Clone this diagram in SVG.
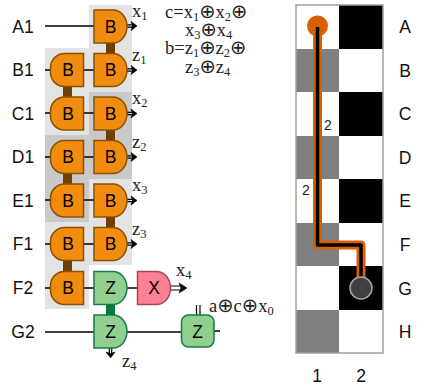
<svg xmlns="http://www.w3.org/2000/svg" width="425" height="389" viewBox="0 0 425 389">
<style>
.l{font-family:"Liberation Sans",Arial,sans-serif;font-size:17.5px;fill:#111;text-anchor:middle}
.g{font-family:"Liberation Sans",Arial,sans-serif;font-size:17.5px;fill:#000;text-anchor:middle}
.m{font-family:"Liberation Serif","DejaVu Serif",serif;font-size:18.500px;fill:#222}
.m tspan.s{font-size:12.500px}
.m tspan.o{font-family:"DejaVu Sans",sans-serif;font-size:19.500px}
.n{font-family:"Liberation Sans",Arial,sans-serif;font-size:14px;fill:#222}
.w{stroke:#000;stroke-width:1.500;fill:none}
.d{stroke:#000;stroke-width:1.200;fill:none}
.t{stroke-width:9;fill:none}
.b{fill:#f28c0f;stroke:#8a5200;stroke-width:1.500}
.z{fill:#8fd08f;stroke:#1a7a4a;stroke-width:1.500}
.x{fill:#ff8095;stroke:#a04a55;stroke-width:1.500}
</style>
<defs>
<path id="R" d="M0 -16.500H19A14 16.500 0 0 1 33 0A14 16.500 0 0 1 19 16.500H0Z"/>
<path id="L" d="M33 -16.500H14A14 14 0 0 0 0 -2.500V2.500A14 14 0 0 0 14 16.500H33Z"/>
<g id="a"><path d="M0 -1.200H7M0 1.200H7" class="d"/><path d="M4 -4.500L10 0L4 4.500L5.500 0Z" fill="#000" stroke="#000" stroke-width=".6"/></g>
</defs>
<g id="bands">
<path fill="#e3e3e3" d="M89 5H132V92H89ZM45 48H89V135H45ZM89 179H132V265H89ZM45 222H89V309H45Z"/>
<path fill="#c9c9c9" d="M89 92H132V179H89ZM45 135H89V222H45Z"/>
</g>
<g id="connectors">
<path class="w" d="M45 26H94M45 70H50M83 70H94M45 113H50M83 113H94M45 157H50M83 157H94M45 200H50M83 200H94M45 244H50M83 244H94M45 288H50M83 288H94M45 332H94M127 332H181M127 288H137M214 331H220"/>
<path class="d" d="M196.500 305V315M200 305V315"/>
<path class="t" stroke="#6e3f00" d="M110.500 43V54M67.500 86V97M110.500 130V141M67.500 173V184M110.500 217V228M67.500 260V272"/>
<path class="t" stroke="#007a3d" d="M110.500 304V316"/>
<use href="#a" x="127" y="26"/><use href="#a" x="127" y="70"/><use href="#a" x="127" y="113.500"/><use href="#a" x="127" y="157"/><use href="#a" x="127" y="200.500"/><use href="#a" x="127" y="244"/>
<use href="#a" transform="translate(110.500 348) rotate(90)"/>
<path class="d" d="M171 286H183M171 290H183"/>
<path d="M179 283L187 288L179 293L181 288Z" fill="#000" stroke="#000" stroke-width=".6"/>
</g>
<g id="A1"><use href="#R" transform="translate(94 26.500)" class="b"/><text x="110.500" y="33" class="g">B</text><text x="23" y="33" class="l">A1</text></g>
<g id="B1a"><use href="#L" transform="translate(50.500 70)" class="b"/><text x="68" y="76" class="g">B</text><text x="23" y="76" class="l">B1</text></g>
<g id="B1b"><use href="#R" transform="translate(94 70)" class="b"/><text x="110.500" y="76" class="g">B</text></g>
<g id="C1a"><use href="#L" transform="translate(50.500 113.500)" class="b"/><text x="68" y="120" class="g">B</text><text x="23" y="120" class="l">C1</text></g>
<g id="C1b"><use href="#R" transform="translate(94 113.500)" class="b"/><text x="110.500" y="120" class="g">B</text></g>
<g id="D1a"><use href="#L" transform="translate(50.500 157)" class="b"/><text x="68" y="163" class="g">B</text><text x="23" y="163" class="l">D1</text></g>
<g id="D1b"><use href="#R" transform="translate(94 157)" class="b"/><text x="110.500" y="163" class="g">B</text></g>
<g id="E1a"><use href="#L" transform="translate(50.500 200.500)" class="b"/><text x="68" y="207" class="g">B</text><text x="23" y="207" class="l">E1</text></g>
<g id="E1b"><use href="#R" transform="translate(94 200.500)" class="b"/><text x="110.500" y="207" class="g">B</text></g>
<g id="F1a"><use href="#L" transform="translate(50.500 244)" class="b"/><text x="68" y="250" class="g">B</text><text x="23" y="250" class="l">F1</text></g>
<g id="F1b"><use href="#R" transform="translate(94 244)" class="b"/><text x="110.500" y="250" class="g">B</text></g>
<g id="F2a"><use href="#L" transform="translate(50.500 288)" class="b"/><text x="68" y="294" class="g">B</text><text x="23" y="294" class="l">F2</text></g>
<g id="F2b"><use href="#R" transform="translate(94 288)" class="z"/><text x="110.500" y="294" class="g">Z</text></g>
<g id="F2c"><use href="#R" transform="translate(137.500 288)" class="x"/><text x="154" y="294" class="g">X</text></g>
<g id="G2a"><use href="#R" transform="translate(94 331.500)" class="z"/><text x="110.500" y="338" class="g">Z</text><text x="23" y="338" class="l">G2</text></g>
<g id="G2b"><rect x="181.500" y="315" width="32.500" height="32" rx="7" class="z"/><text x="197.500" y="338" class="g">Z</text></g>
<g id="labels" class="m">
<text x="132" y="17">x<tspan class="s" dy="3">1</tspan></text>
<text x="132" y="61">z<tspan class="s" dy="3">1</tspan></text>
<text x="132" y="104">x<tspan class="s" dy="3">2</tspan></text>
<text x="132" y="148">z<tspan class="s" dy="3">2</tspan></text>
<text x="132" y="191">x<tspan class="s" dy="3">3</tspan></text>
<text x="132" y="235">z<tspan class="s" dy="3">3</tspan></text>
<text x="176" y="276">x<tspan class="s" dy="3">4</tspan></text>
<text x="122" y="367">z<tspan class="s" dy="3">4</tspan></text>
<text x="209" y="312">a<tspan class="o">⊕</tspan>c<tspan class="o">⊕</tspan>x<tspan class="s" dy="3">0</tspan></text>
<text x="165" y="18">c=x<tspan class="s" dy="3">1</tspan><tspan class="o" dy="-3">⊕</tspan>x<tspan class="s" dy="3">2</tspan><tspan class="o" dy="-3">⊕</tspan></text>
<text x="185" y="36">x<tspan class="s" dy="3">3</tspan><tspan class="o" dy="-3">⊕</tspan>x<tspan class="s" dy="3">4</tspan></text>
<text x="165" y="54">b=z<tspan class="s" dy="3">1</tspan><tspan class="o" dy="-3">⊕</tspan>z<tspan class="s" dy="3">2</tspan><tspan class="o" dy="-3">⊕</tspan></text>
<text x="185" y="73">z<tspan class="s" dy="3">3</tspan><tspan class="o" dy="-3">⊕</tspan>z<tspan class="s" dy="3">4</tspan></text>
</g>
<g id="board">
<rect x="296" y="5" width="87" height="348" fill="#fff"/>
<path fill="#000" d="M339 5H383V49H339ZM339 92H383V136H339ZM339 179H383V223H339ZM339 266H383V310H339Z"/>
<path fill="#808080" d="M296 49H339V92H296ZM296 136H339V179H296ZM296 223H339V266H296ZM296 310H339V353H296Z"/>
<rect x="296" y="5" width="87" height="348" fill="none" stroke="#a0a0a0" stroke-width="1.500"/>
</g>
<g id="path-route" fill="none" stroke-linejoin="round">
<circle cx="317.500" cy="26" r="10.500" fill="#d95f02"/>
<path d="M317.500 26V245H361V288" stroke="#d95f02" stroke-width="9"/>
<path d="M317.500 27V245H361V288" stroke="#000" stroke-width="3.500"/>
<circle cx="361" cy="288" r="11" fill="#404040" stroke="#a8a8a8" stroke-width="1.500"/>
</g>
<g id="board-labels">
<text x="324" y="130" class="n">2</text>
<text x="302" y="195" class="n">2</text>
<text x="405" y="33" class="l">A</text><text x="405" y="77" class="l">B</text><text x="405" y="120" class="l">C</text><text x="405" y="164" class="l">D</text><text x="405" y="207" class="l">E</text><text x="405" y="251" class="l">F</text><text x="405" y="295" class="l">G</text><text x="405" y="338" class="l">H</text>
<text x="317" y="382" class="l">1</text><text x="361" y="382" class="l">2</text>
</g>
</svg>
